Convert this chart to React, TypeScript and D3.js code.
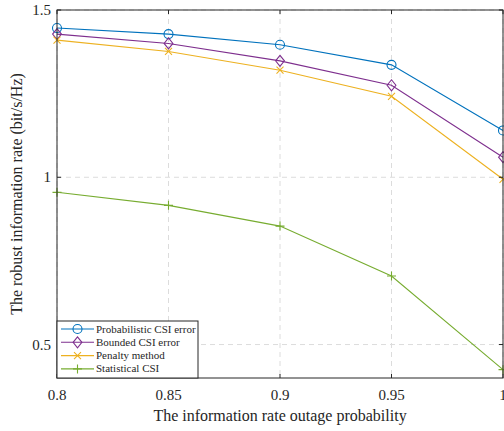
import React, { useEffect, useRef } from "react";
import * as d3 from "d3";

const probs = [0.8, 0.85, 0.9, 0.95, 1];
const probabilistic = [1.446, 1.428, 1.396, 1.336, 1.14];
const bounded = [1.428, 1.4, 1.348, 1.275, 1.06];
const penalty = [1.41, 1.376, 1.32, 1.242, 0.994];
const statistical = [0.955, 0.916, 0.854, 0.705, 0.425];
const xTicks = [0.8, 0.85, 0.9, 0.95, 1];
const yTicks = [0.5, 1, 1.5];
const seriesNames = ["Probabilistic CSI error", "Bounded CSI error", "Penalty method", "Statistical CSI"];

function App() {
  const ref = useRef(null);

  useEffect(() => {
    const svg = d3.select(ref.current);
    svg.selectAll("*").remove();
    const left = 57, right = 503, top = 10, bottom = 378;
    const font = "'Liberation Serif', 'Times New Roman', serif";

    const x = d3.scaleLinear().domain([0.8, 1]).range([left, right]);
    const y = d3.scaleLinear().domain([0.4, 1.5]).range([bottom, top]);

    const series = [
      { name: seriesNames[0], vals: probabilistic, color: "#0072BD", marker: "circle" },
      { name: seriesNames[1], vals: bounded, color: "#7E2F8E", marker: "diamond" },
      { name: seriesNames[2], vals: penalty, color: "#EDB120", marker: "x" },
      { name: seriesNames[3], vals: statistical, color: "#77AC30", marker: "plus" },
    ];

    svg.append("rect").attr("x", left).attr("y", top).attr("width", right - left).attr("height", bottom - top).attr("fill", "#fff");

    // grid
    const grid = svg.append("g").attr("stroke", "#dcdcdc").attr("stroke-dasharray", "5,4").attr("stroke-width", 1);
    xTicks.forEach((t) => {
      grid.append("line").attr("x1", x(t)).attr("x2", x(t)).attr("y1", top).attr("y2", bottom);
    });
    yTicks.forEach((t) => {
      grid.append("line").attr("x1", left).attr("x2", right).attr("y1", y(t)).attr("y2", y(t));
    });

    const drawMarker = (g: any, kind: string, cx: number, cy: number, color: string) => {
      if (kind === "circle") {
        g.append("circle").attr("cx", cx).attr("cy", cy).attr("r", 4.5).attr("fill", "none").attr("stroke", color).attr("stroke-width", 1.1);
      } else if (kind === "diamond") {
        const s = 5.5;
        g.append("path").attr("d", `M${cx},${cy - s}L${cx + s * 0.8},${cy}L${cx},${cy + s}L${cx - s * 0.8},${cy}Z`).attr("fill", "none").attr("stroke", color).attr("stroke-width", 1.1);
      } else if (kind === "x") {
        const s = 3.5;
        g.append("path").attr("d", `M${cx - s},${cy - s}L${cx + s},${cy + s}M${cx - s},${cy + s}L${cx + s},${cy - s}`).attr("stroke", color).attr("stroke-width", 1.1);
      } else {
        const s = 4.5;
        g.append("path").attr("d", `M${cx - s},${cy}L${cx + s},${cy}M${cx},${cy - s}L${cx},${cy + s}`).attr("stroke", color).attr("stroke-width", 1.1);
      }
    };

    const line = d3.line<number>().x((d, i) => x(probs[i])).y((d) => y(d));
    series.forEach((s) => {
      const g = svg.append("g");
      g.append("path").attr("d", line(s.vals) as string).attr("fill", "none").attr("stroke", s.color).attr("stroke-width", 1.1);
      s.vals.forEach((v, i) => drawMarker(g, s.marker, x(probs[i]), y(v), s.color));
    });

    // box + ticks
    const ax = svg.append("g").attr("stroke", "#262626").attr("stroke-width", 1).attr("fill", "none");
    ax.append("rect").attr("x", left).attr("y", top).attr("width", right - left).attr("height", bottom - top);
    xTicks.forEach((t) => {
      ax.append("line").attr("x1", x(t)).attr("x2", x(t)).attr("y1", bottom).attr("y2", bottom - 4);
      ax.append("line").attr("x1", x(t)).attr("x2", x(t)).attr("y1", top).attr("y2", top + 4);
    });
    yTicks.forEach((t) => {
      ax.append("line").attr("x1", left).attr("x2", left + 4).attr("y1", y(t)).attr("y2", y(t));
      ax.append("line").attr("x1", right).attr("x2", right - 4).attr("y1", y(t)).attr("y2", y(t));
    });

    const txt = svg.append("g").attr("font-family", font).attr("fill", "#262626");
    xTicks.forEach((t) => {
      txt.append("text").attr("x", x(t)).attr("y", 400).attr("text-anchor", "middle").attr("font-size", 15).text(d3.format("")(t));
    });
    yTicks.forEach((t) => {
      txt.append("text").attr("x", left - 6).attr("y", y(t) + 5).attr("text-anchor", "end").attr("font-size", 15).text(String(t));
    });
    txt.append("text").attr("x", 280).attr("y", 421).attr("text-anchor", "middle").attr("font-size", 16)
      .text("The information rate outage probability");
    txt.append("text").attr("transform", `translate(22,${(top + bottom) / 2}) rotate(-90)`).attr("text-anchor", "middle").attr("font-size", 16)
      .text("The robust information rate (bit/s/Hz)");

    // legend
    const lg = svg.append("g");
    const lx = left, ly = 321, lw = 141, lh = bottom - ly;
    lg.append("rect").attr("x", lx).attr("y", ly).attr("width", lw).attr("height", lh).attr("fill", "#fff").attr("stroke", "#262626").attr("stroke-width", 1);
    series.forEach((s, i) => {
      const cy = ly + 8 + i * 13.3;
      lg.append("line").attr("x1", lx + 4).attr("x2", lx + 37).attr("y1", cy).attr("y2", cy).attr("stroke", s.color).attr("stroke-width", 1.1);
      drawMarker(lg, s.marker, lx + 20.5, cy, s.color);
      lg.append("text").attr("x", lx + 39).attr("y", cy + 3.5).attr("font-family", font).attr("font-size", 11).attr("fill", "#262626").text(s.name);
    });
  }, []);

  return <svg ref={ref} width={504} height={431} style={{ position: "absolute", left: 0, top: 0, background: "#fff" }} />;
}

export default App;
